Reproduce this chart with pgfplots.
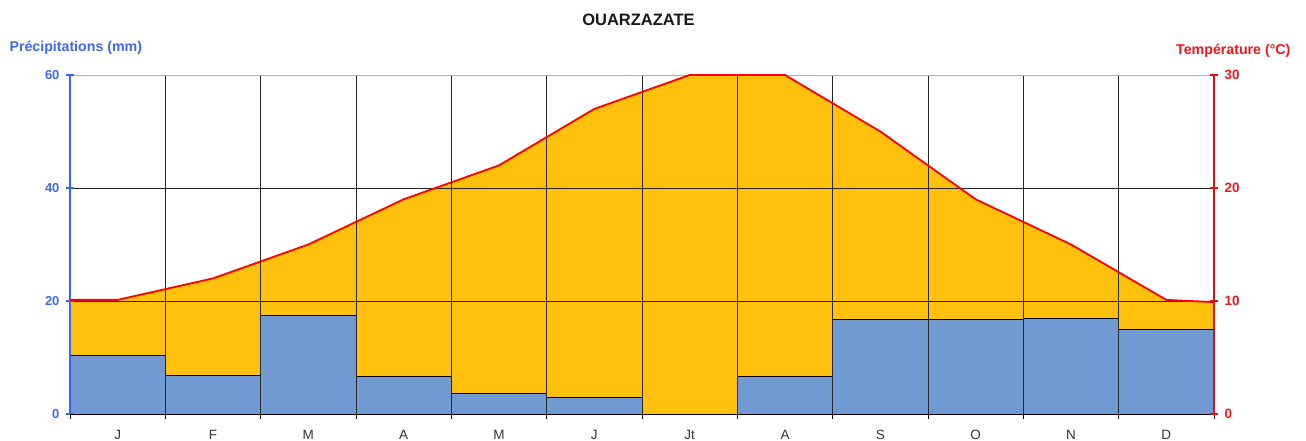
\documentclass[border=0pt]{standalone}
\usepackage{pgfplots}
\pgfplotsset{compat=1.18}
\usepackage{fontspec}
\setmainfont{Liberation Sans}
\definecolor{orangefill}{RGB}{255,193,14}
\definecolor{barblue}{RGB}{113,153,210}
\definecolor{axblue}{RGB}{55,100,245}
\definecolor{txtblue}{RGB}{65,105,230}
\definecolor{axred}{RGB}{210,20,20}
\definecolor{txtred}{RGB}{235,25,30}
\begin{document}
\begin{tikzpicture}[x=1pt,y=1pt]
\useasboundingbox (0,0) rectangle (1306,441);
\pgfplotsset{mybase/.style={scale only axis, width=1144pt, height=339pt,
  at={(70pt,27pt)}, anchor=south west, xmin=0, xmax=12,
  /pgf/number format/assume math mode=true}}
% temperature (deg C) at month centres, extended to edges
\pgfplotstableread{
x T
0 10.1
0.5 10.1
1.5 12
2.5 15
3.5 19
4.5 22
5.5 27
6.5 30
7.5 30
8.5 25
9.5 19
10.5 15
11.5 10.1
12 9.9
}\temptable
% precipitation (mm)
\pgfplotstableread{
x P
0 10.4
1 6.9
2 17.5
3 6.7
4 3.7
5 2.9
6 0
7 6.7
8 16.8
9 16.8
10 16.9
11 14.9
12 14.9
}\preciptable
% orange area
\begin{axis}[mybase, ymin=0, ymax=30, hide axis]
\addplot[fill=orangefill, draw=none] table[x=x,y=T] {\temptable} \closedcycle;
\end{axis}
% precipitation bars + grid + left axis
\begin{axis}[mybase, ymin=0, ymax=60, axis on top,
  axis x line*=bottom, axis y line*=left,
  x axis line style={black, line width=0.8pt, -},
  y axis line style={axblue, line width=1.8pt, -},
  xtick={0.5,1.5,...,11.5},
  xticklabels={J,F,M,A,M,J,Jt,A,S,O,N,D},
  xticklabel style={font=\fontsize{13.5}{14}\selectfont, text=black!80, yshift=-5pt},
  minor xtick={0,1,...,12},
  xminorgrids=true, xmajorgrids=false,
  minor x tick style={black, line width=0.7pt},
  major x tick style={draw=none},
  minor tick length=5pt,
  xtick align=outside,
  ytick={0,20,40},
  extra y ticks={60},
  extra y tick style={grid style={gray!60, line width=0.9pt}},
  ymajorgrids=true,
  ytick align=center,
  major tick length=8pt,
  y tick style={axblue, line width=1.2pt},
  yticklabel style={font=\bfseries\fontsize{13}{14}\selectfont, text=txtblue, xshift=-3pt},
  grid style={black!85, line width=0.7pt},
  minor grid style={black!85, line width=0.7pt},
]
\addplot[const plot, fill=barblue, draw=black, line width=0.8pt] table[x=x,y=P] {\preciptable} \closedcycle;
\end{axis}
% temperature line + right axis
\begin{axis}[mybase, ymin=0, ymax=30,
  axis x line=none, axis y line*=right,
  y axis line style={axred, line width=1.8pt, -},
  ytick={0,10,20,30},
  ytick align=center,
  major tick length=8pt,
  y tick style={axred, line width=1.2pt},
  yticklabel style={font=\bfseries\fontsize{13.5}{14}\selectfont, text=txtred, xshift=3pt},
]
\addplot[red, line width=1.8pt] table[x=x,y=T] {\temptable};
\end{axis}
\node[font=\bfseries\fontsize{16.5}{18}\selectfont, text=black!90] at (638.5,421) {OUARZAZATE};
\node[font=\bfseries\fontsize{14.2}{16}\selectfont, text=txtblue, anchor=west] at (6,393.5) {Précipitations (mm)};
\node[font=\bfseries\fontsize{14.2}{16}\selectfont, text=txtred, anchor=east] at (1294,390) {Température (°C)};
\end{tikzpicture}
\end{document}
